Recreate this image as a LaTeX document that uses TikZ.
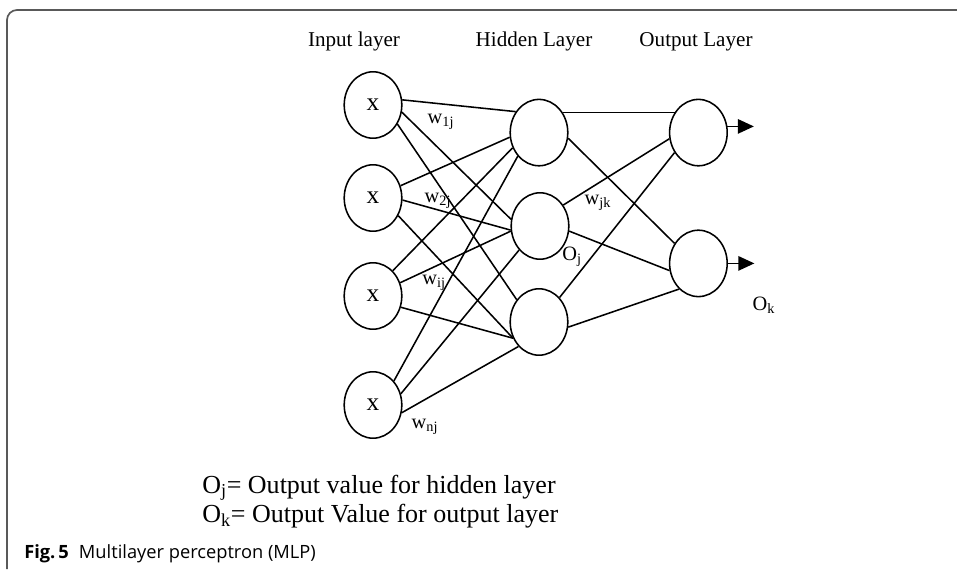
\documentclass[tikz,border=0pt]{standalone}
\usepackage{fontspec}
\setmainfont{Liberation Serif}
\newfontfamily\capfont{Open Sans}
\usetikzlibrary{arrows.meta,shapes.geometric}
\tikzset{%
	neuron/.style   = {draw, ellipse, line width=1.1pt, minimum width=1.44cm, minimum height=1.66cm, inner sep=0pt},
	wire/.style     = {line width=1.1pt},
	outarrow/.style = {line width=1.1pt, -{Triangle[length=0.4cm,width=0.36cm]}},
	title/.style    = {anchor=base, inner sep=0pt, font=\fontsize{15}{18}\selectfont},
	lbl/.style      = {inner sep=0pt, font=\fontsize{14.5}{17}\selectfont},
	note/.style     = {anchor=base west, inner sep=0pt, font=\fontsize{18.5}{22}\selectfont},
}

\begin{document}
\begin{tikzpicture}
		\useasboundingbox (0,0) rectangle (23.925,14.225);
		% frame
		\draw[black!65, line width=1.2pt, rounded corners=0.25cm] (0.175,0) -- (0.175,13.975) -- (23.925,13.975);
		% layer titles
		\node[title] (tin)  at (8.85,13.06)  {Input layer};
		\node[title] (thid) at (13.35,13.06) {Hidden Layer};
		\node[title] (tout) at (17.4,13.06)  {Output Layer};
		% input layer
		\node[neuron, font=\fontsize{18}{20}\selectfont] (x1) at (9.325,11.6)  {x};
		\node[neuron, font=\fontsize{18}{20}\selectfont] (x2) at (9.325,9.275) {x};
		\node[neuron, font=\fontsize{18}{20}\selectfont] (x3) at (9.325,6.825) {x};
		\node[neuron, font=\fontsize{18}{20}\selectfont] (x4) at (9.325,4.1)   {x};
		% hidden layer
		\node[neuron] (h1) at (13.475,10.91) {};
		\node[neuron] (h2) at (13.5,8.575)   {};
		\node[neuron] (h3) at (13.475,6.175) {};
		% output layer
		\node[neuron] (o1) at (17.46,10.91) {};
		\node[neuron] (o2) at (17.46,7.64)  {};
		% input -> hidden
		\draw[wire] (x1.10) -- (h1.138);
		\draw[wire] (x1.-14) -- (h2.167);
		\draw[wire] (x1.-38) -- (h3.135);
		\draw[wire] (x2.24) -- (h1.189);
		\draw[wire] (x2.-4) -- (h2.188);
		\draw[wire] (x2.-35) -- (h3.212);
		\draw[wire] (x3.52) -- (h1.210);
		\draw[wire] (x3.26) -- (h2.190);
		\draw[wire] (x3.-22) -- (h3.212);
		\draw[wire] (x4.49) -- (h1.228);
		\draw[wire] (x4.22) -- (h2.229);
		\draw[wire] (x4.-15) -- (h3.230);
		% hidden -> output
		\draw[wire] (h1.40) -- (o1.140);
		\draw[wire] (h1.-11) -- (o2.140);
		\draw[wire] (h2.42) -- (o1.192);
		\draw[wire] (h2.-10) -- (o2.194);
		\draw[wire] (h3.50) -- (o1.220);
		\draw[wire] (h3.-10) -- (o2.233);
		% outputs
		\coordinate (k1) at ([xshift=0.66cm]o1.12);
		\coordinate (k2) at ([xshift=0.66cm]o2.east);
		\draw[outarrow] (o1.12) -- (k1);
		\draw[outarrow] (o2.east) -- (k2);
		% weights and outputs
		\node[lbl] (w1j) at (11.025,11.175) {w\textsubscript{1j}};
		\node[lbl] (w2j) at (10.95,9.2)     {w\textsubscript{2j}};
		\node[lbl] (wij) at (10.85,7.15)    {w\textsubscript{ij}};
		\node[lbl] (wnj) at (10.625,3.55)   {w\textsubscript{nj}};
		\node[lbl] (wjk) at (14.95,9.15)    {w\textsubscript{jk}};
		\node[lbl] (oj)  at (14.3,7.8)      {O\textsubscript{j}};
		\node[lbl] (ok)  at (19.1,6.6)      {O\textsubscript{k}};
		% legend
		\node[note] (lj) at (5.05,1.9)   {O\textsubscript{j}= Output value for hidden layer};
		\node[note] (lk) at (5.05,1.175) {O\textsubscript{k}= Output Value for output layer};
		% caption
		\node[anchor=base west, inner sep=0pt, font=\capfont\fontsize{13}{15}\selectfont] (cap) at (0.6,0.275)
			{\textbf{Fig.\,5}\hspace{0.55em}Multilayer perceptron (MLP)};
	\end{tikzpicture}
\end{document}
